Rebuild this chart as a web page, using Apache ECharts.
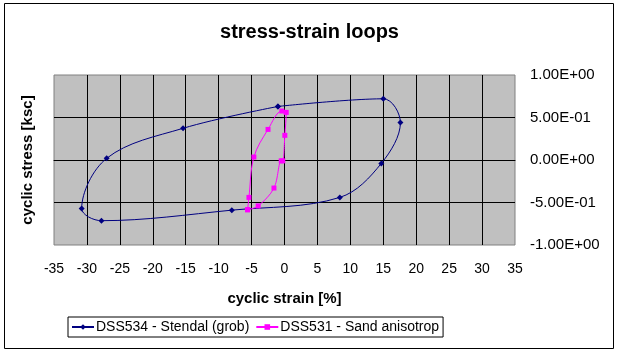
<!DOCTYPE html>
<html>
<head>
<meta charset="utf-8">
<script src="https://cdn.jsdelivr.net/npm/echarts@6/dist/echarts.min.js"></script>
<style>
  html, body { margin: 0; padding: 0; background: #fff; }
  #chart { width: 619px; height: 354px; }
</style>
</head>
<body>
<div id="chart"></div>
<script>
// DSS534 - Stendal (grob)
var strainA = [-1.0, 15.0, 17.6, 14.7, 8.4, -8.0, -27.8, -30.8, -27.0, -15.4, -1.0];
var stressA = [0.63, 0.72, 0.44, -0.04, -0.44, -0.59, -0.714, -0.57, 0.02, 0.373, 0.63];
// DSS531 - Sand anisotrop
var strainB = [-5.6, -5.4, -4.65, -2.5, -0.4, 0.26, 0.05, -0.26, -0.5, -1.6, -4.0, -5.6];
var stressB = [-0.585, -0.44, 0.035, 0.36, 0.576, 0.56, 0.29, -0.01, -0.01, -0.33, -0.54, -0.585];

var seriesNames = ['DSS534 - Stendal (grob)', 'DSS531 - Sand anisotrop'];

function zip(xs, ys) {
  return xs.map(function (x, i) { return [x, ys[i]]; });
}

// excel style 1.00E+00
function sci(v) {
  if (v === 0) return '0.00E+00';
  var e = Math.floor(Math.log10(Math.abs(v)) + 1e-9);
  var m = v / Math.pow(10, e);
  var es = (e < 0 ? '-' : '+') + (Math.abs(e) < 10 ? '0' : '') + Math.abs(e);
  return m.toFixed(2) + 'E' + es;
}

var font = 'Liberation Sans, Arial, sans-serif';
var eChart = echarts.init(document.getElementById('chart'));
var option = {
  animation: false,
  textStyle: { fontFamily: font },
  title: {
    text: 'stress-strain loops',
    left: 'center',
    top: 17,
    textStyle: { fontSize: 20, fontWeight: 'bold', color: '#000', fontFamily: font }
  },
  legend: {
    left: 68,
    top: 317,
    padding: [3, 4, 3, 3],
    itemGap: 6,
    itemWidth: 22,
    itemHeight: 7,
    borderColor: '#000',
    borderWidth: 1,
    textStyle: { fontSize: 14, color: '#000', fontFamily: font, padding: [0, 0, 0, -3] },
    data: seriesNames
  },
  grid: {
    left: 54,
    right: 104,
    top: 75,
    bottom: 109,
    show: true,
    backgroundColor: '#C0C0C0',
    borderColor: '#808080',
    borderWidth: 1
  },
  xAxis: {
    type: 'value',
    min: -35,
    max: 35,
    interval: 5,
    name: 'cyclic strain [%]',
    nameLocation: 'middle',
    nameGap: 46,
    nameTextStyle: { fontSize: 15, fontWeight: 'bold', color: '#000' },
    axisLine: { show: true, onZero: true, lineStyle: { color: '#000' } },
    axisTick: { show: false },
    axisLabel: { margin: 17, fontSize: 14, color: '#000' },
    splitLine: { show: true, showMinLine: false, showMaxLine: false, lineStyle: { color: '#000', width: 1 } }
  },
  yAxis: [{
    type: 'value',
    position: 'right',
    min: -1,
    max: 1,
    interval: 0.5,
    axisLine: { show: false },
    axisTick: { show: false },
    axisLabel: { margin: 15, fontSize: 15, color: '#000', align: 'left', formatter: sci },
    splitLine: { show: true, showMinLine: false, showMaxLine: false, lineStyle: { color: '#000', width: 1 } }
  }, {
    type: 'value',
    position: 'left',
    min: -1,
    max: 1,
    name: 'cyclic stress [ksc]',
    nameLocation: 'middle',
    nameGap: 19,
    nameTextStyle: { fontSize: 15, fontWeight: 'bold', color: '#000' },
    axisLine: { show: false },
    axisTick: { show: false },
    axisLabel: { show: false },
    splitLine: { show: false }
  }],
  series: [{
    name: seriesNames[0],
    type: 'line',
    smooth: 0.35,
    symbol: 'diamond',
    symbolSize: 6,
    itemStyle: { color: '#000080' },
    lineStyle: { color: '#000080', width: 1 },
    data: zip(strainA, stressA)
  }, {
    name: seriesNames[1],
    type: 'line',
    smooth: 0.35,
    symbol: 'rect',
    symbolSize: 5,
    itemStyle: { color: '#FF00FF' },
    lineStyle: { color: '#FF00FF', width: 1 },
    data: zip(strainB, stressB)
  }],
  graphic: [{
    type: 'rect',
    silent: true,
    shape: { x: 4.5, y: 3.5, width: 609, height: 345 },
    style: { fill: 'none', stroke: '#000', lineWidth: 1 }
  }]
};
eChart.setOption(option);
</script>
</body>
</html>
